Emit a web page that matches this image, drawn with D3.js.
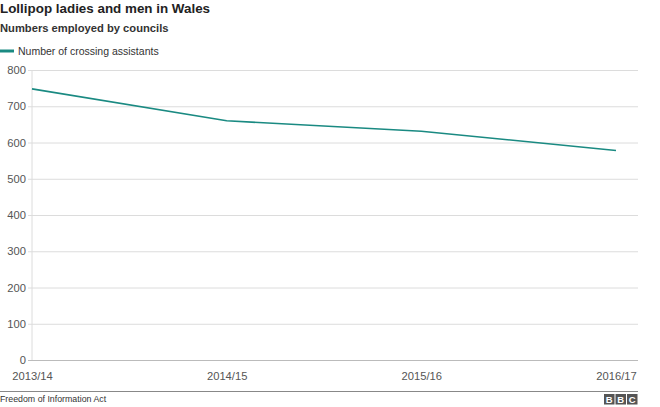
<!DOCTYPE html>
<html><head><meta charset="utf-8">
<script src="https://cdn.jsdelivr.net/npm/d3@7"></script>
<style>body{margin:0;background:#fff;font-family:Arial,"Liberation Sans",Helvetica,sans-serif}</style>
</head><body><svg id="c" width="660" height="407"></svg>
<script>
const categories = ["2013/14","2014/15","2015/16","2016/17"];
const values = [748, 660, 631, 578];
const yTicks = [0,100,200,300,400,500,600,700,800];
const seriesName = "Number of crossing assistants";

const svg = d3.select("#c");
const x = d3.scalePoint().domain(categories).range([32, 616]);
const y = d3.scaleLinear().domain([0,800]).range([360, 70]);

svg.append("text").attr("x",0).attr("y",13).attr("font-size",13.4).attr("font-weight","bold").attr("fill","#222").text("Lollipop ladies and men in Wales");
svg.append("text").attr("x",0).attr("y",32).attr("font-size",11.2).attr("font-weight","bold").attr("fill","#333").text("Numbers employed by councils");
svg.append("line").attr("x1",0).attr("x2",14).attr("y1",51).attr("y2",51).attr("stroke","#1a8a82").attr("stroke-width",3);
svg.append("text").attr("x",18).attr("y",55).attr("font-size",10.5).attr("fill","#333").text(seriesName);

const ya = d3.axisLeft(y).tickValues(yTicks).tickSize(-(638-32)).tickPadding(6).tickFormat(d3.format("d"));
const gy = svg.append("g").attr("transform","translate(32,0)").call(ya);
gy.select(".domain").remove();
gy.selectAll(".tick line").attr("stroke","#dcdcdc").attr("x1",-4);
gy.selectAll(".tick text").attr("fill","#555").attr("font-size",11.2).attr("font-family","Arial,'Liberation Sans',sans-serif");
gy.selectAll(".tick").filter(d=>d===0).select("line").attr("stroke","#bbb");
svg.append("line").attr("x1",32).attr("x2",32).attr("y1",70).attr("y2",360).attr("stroke","#dcdcdc");

const xa = d3.axisBottom(x).tickSize(0).tickPadding(12);
const gx = svg.append("g").attr("transform","translate(0,360)").call(xa);
gx.select(".domain").remove();
gx.selectAll(".tick text").attr("fill","#555").attr("font-size",11.2).attr("font-family","Arial,'Liberation Sans',sans-serif");

const line = d3.line().x((d,i)=>x(categories[i])).y(d=>y(d));
svg.append("path").datum(values).attr("d",line).attr("fill","none").attr("stroke","#1a8a82").attr("stroke-width",1.6);

svg.append("line").attr("x1",0).attr("x2",638).attr("y1",391.5).attr("y2",391.5).attr("stroke","#888").attr("stroke-width",1);
svg.append("text").attr("x",0).attr("y",402).attr("font-size",8.8).attr("fill","#333").text("Freedom of Information Act");
const bbc = svg.append("g").attr("transform","translate(604,394)");
["B","B","C"].forEach((ch,i)=>{
  bbc.append("rect").attr("x",i*11.5).attr("y",0).attr("width",10.5).attr("height",10.5).attr("fill","#555");
  bbc.append("text").attr("x",i*11.5+5.25).attr("y",9).attr("text-anchor","middle").attr("font-size",9.5).attr("font-weight","bold").attr("fill","#fff").text(ch);
});
</script></body></html>
